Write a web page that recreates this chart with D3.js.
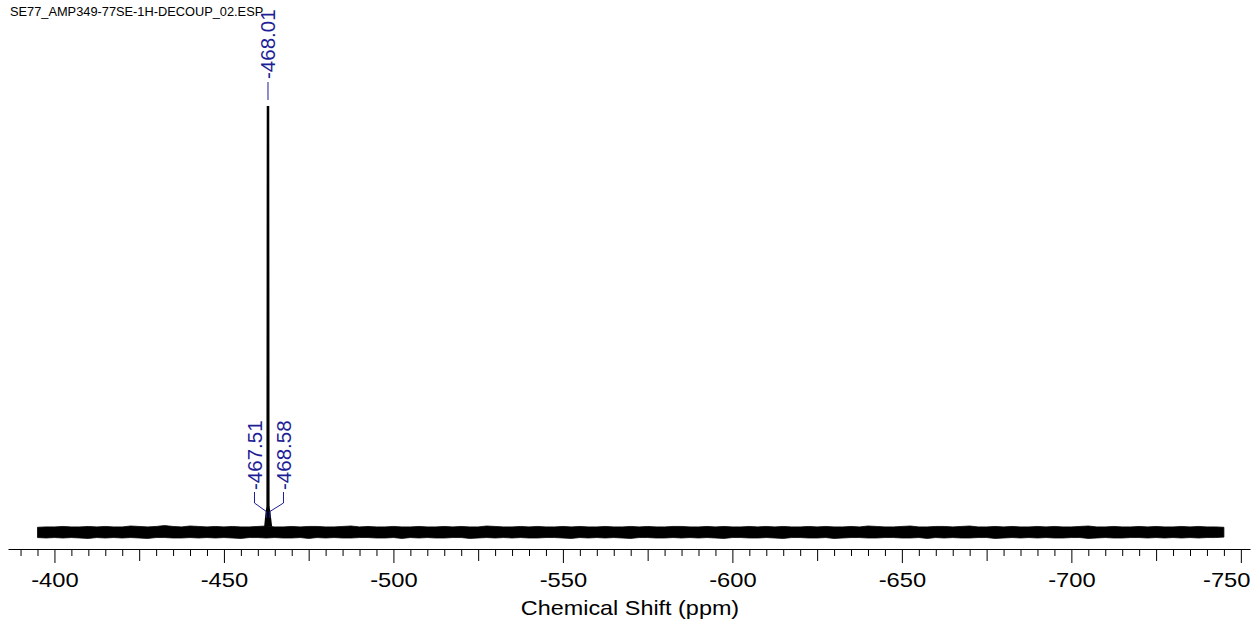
<!DOCTYPE html>
<html>
<head>
<meta charset="utf-8">
<script src="https://cdn.jsdelivr.net/npm/d3@7"></script>
<style>
  html, body { margin: 0; padding: 0; background: #fff; }
  svg { display: block; }
  text { font-family: "Liberation Sans", Arial, Helvetica, sans-serif; }
</style>
</head>
<body>
<svg id="chart" width="1258" height="625"></svg>
<script>
// ---------------- data ----------------
const fileTitle = "SE77_AMP349-77SE-1H-DECOUP_02.ESP";
const axisTitle = "Chemical Shift (ppm)";

// noise envelope of the baseline, read every 2.5 ppm from -395 to -745 (intensity, peak ≈ 1000)
const noiseStart = -395, noiseStep = -2.5;
const noiseTop = [
  11,12,12,13,12,12,13,12,13,12, 12,14,13,12,13,15,13,12,14,13,
  12,13,12,13,12,12,13,14,12,12, 13,12,13,13,12,12,13,14,12,13,
  12,12,13,12,12,13,12,12,13,12, 13,12,12,14,13,12,12,13,12,13,
  12,12,13,12,13,12,12,13,12,12, 13,12,13,12,12,13,13,12,12,13,
  12,13,12,12,13,12,13,12,13,12, 12,13,12,13,12,12,13,12,14,13,
  12,12,13,14,12,12,13,13,12,13, 14,12,12,13,12,13,12,12,13,12,
  13,12,12,13,14,12,12,13,12,12, 13,12,13,12,12,13,12,13,12,12, 11];
const noiseBot = [
  -13,-14,-13,-14,-13,-14,-15,-13,-14,-13, -14,-13,-14,-15,-13,-13,-14,-14,-13,-14,
  -13,-14,-13,-14,-15,-13,-13,-14,-13,-14, -14,-13,-15,-13,-14,-13,-14,-14,-13,-13,
  -14,-14,-13,-15,-13,-14,-13,-14,-14,-13, -13,-15,-14,-13,-14,-13,-14,-13,-14,-14,
  -13,-13,-14,-15,-13,-14,-13,-14,-13,-14, -15,-13,-13,-14,-14,-13,-14,-13,-14,-13,
  -14,-15,-13,-13,-14,-14,-13,-14,-15,-13, -13,-14,-14,-13,-15,-14,-13,-13,-14,-14,
  -13,-13,-14,-14,-13,-15,-13,-14,-13,-14, -14,-13,-13,-15,-14,-13,-14,-13,-14,-13,
  -14,-14,-13,-13,-15,-14,-13,-14,-14,-13, -13,-14,-13,-14,-13,-14,-13,-14,-13,-13, -12];

// the single resonance (plotted position on the axis) and its shape
const peakPpm = [-462.2, -462.5, -462.85, -462.95, -463.05, -463.15, -463.57, -463.9];
const peakInt = [13, 38, 60, 995, 995, 60, 34, 13];

// peak-pick labels: text values and their plotted positions
const pickLabels = ["-467.51", "-468.01", "-468.58"];
const pickPpm = [-462.5, -463.0, -463.57];

// axis ticks
const majorTicks = [-400, -450, -500, -550, -600, -650, -700, -750];
const midTicks = [-425, -475, -525, -575, -625, -675, -725];
const minorTicks = d3.range(-390, -751, -5).filter(v => v % 25 !== 0);

// ---------------- drawing ----------------
const svg = d3.select("#chart");
const x = d3.scaleLinear().domain([-386.3, -752.7]).range([8, 1250]);
const y = d3.scaleLinear().domain([0, 1000]).range([532, 105]);
const blue = "#1e1e96";

// file title
svg.append("text").attr("x", 10).attr("y", 16)
  .attr("font-size", 12.8).attr("fill", "#000").text(fileTitle);

// noise band
const noise = noiseTop.map((t, i) => ({p: noiseStart + i * noiseStep, t, b: noiseBot[i]}));
svg.append("path").datum(noise)
  .attr("d", d3.area().x(d => x(d.p)).y0(d => y(d.b)).y1(d => y(d.t)))
  .attr("fill", "#000").attr("stroke", "#000").attr("stroke-width", 0.8)
  .attr("stroke-linejoin", "round");

// peak
const peak = peakPpm.map((p, i) => ({p, v: peakInt[i]}));
svg.append("path").datum(peak)
  .attr("d", d3.line().x(d => x(d.p)).y(d => y(d.v)))
  .attr("fill", "#000").attr("stroke", "#000").attr("stroke-width", 2.2);

// peak labels
const xc = x(pickPpm[1]);
svg.append("line").attr("x1", xc).attr("x2", xc).attr("y1", 82).attr("y2", 100)
  .attr("stroke", blue).attr("stroke-width", 1);
svg.append("text")
  .attr("transform", `translate(${xc},79) rotate(-90)`)
  .attr("dy", "0.36em").attr("font-size", 20.5).attr("fill", blue)
  .text(pickLabels[1]);

const lowLabels = [
  {text: pickLabels[0], lx: xc - 13.5, px: x(pickPpm[0])},
  {text: pickLabels[2], lx: xc + 15.5, px: x(pickPpm[2])}
];
lowLabels.forEach(l => {
  svg.append("path")
    .attr("d", `M${l.lx},492 L${l.lx},503 L${l.px},511.5 L${l.px},518`)
    .attr("fill", "none").attr("stroke", blue).attr("stroke-width", 1);
  svg.append("text")
    .attr("transform", `translate(${l.lx},490) rotate(-90)`)
    .attr("dy", "0.36em").attr("font-size", 20.5).attr("fill", blue)
    .text(l.text);
});

// axis
const axisG = svg.append("g").attr("transform", "translate(0,549)");
const fmt = d => String(d);
axisG.append("g")
  .call(d3.axisBottom(x).tickValues(minorTicks).tickSize(7).tickSizeOuter(0).tickFormat(""))
  .call(g => g.select(".domain").remove());
axisG.append("g")
  .call(d3.axisBottom(x).tickValues(midTicks).tickSize(12).tickSizeOuter(0).tickFormat(""))
  .call(g => g.select(".domain").remove());
const maj = axisG.append("g")
  .call(d3.axisBottom(x).tickValues(majorTicks).tickSize(14).tickSizeOuter(0)
    .tickPadding(9).tickFormat(fmt));
maj.selectAll("text")
  .attr("font-size", 21).attr("font-family", "'Liberation Sans', Arial, sans-serif")
  .attr("fill", "#000").attr("transform", "scale(1.13,1)");
maj.selectAll(".tick").filter(d => d === majorTicks[majorTicks.length - 1]).select("text")
  .attr("text-anchor", "end").attr("x", (1250 - x(majorTicks[majorTicks.length - 1])) / 1.13);
axisG.selectAll("line").attr("stroke", "#000").attr("stroke-width", 1);
axisG.selectAll(".domain").attr("stroke", "#000").attr("stroke-width", 1.2);

// axis title
svg.append("text")
  .attr("transform", "translate(630,615) scale(1.17,1)")
  .attr("text-anchor", "middle").attr("font-size", 20).attr("fill", "#000")
  .text(axisTitle);
</script>
</body>
</html>
